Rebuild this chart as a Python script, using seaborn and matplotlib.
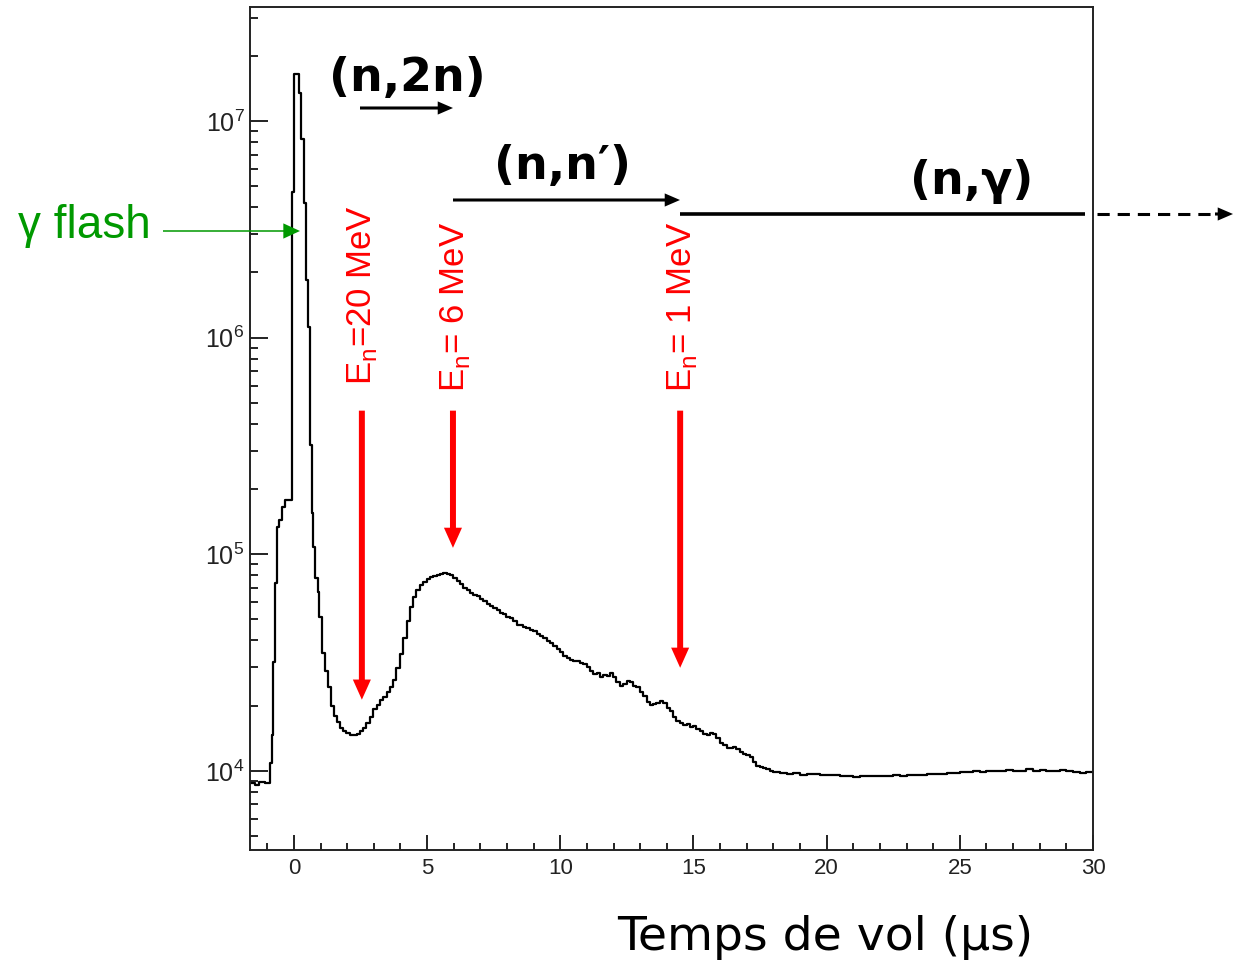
import numpy as np
import pandas as pd
import matplotlib
matplotlib.use("Agg")
import matplotlib.pyplot as plt
from matplotlib.lines import Line2D
from matplotlib.ticker import MultipleLocator, LogLocator, FuncFormatter, NullFormatter
import seaborn as sns


# Config
W, H = 1233, 964

# Time-of-flight spectrum (lower bin edge in µs, counts per bin)
tof_us = [
    -1.65, -1.45, -1.30, -1.10, -0.90, -0.82, -0.79, -0.71, -0.64, -0.56,
    -0.45, -0.34, -0.09, 0.00, 0.20, 0.26, 0.38, 0.44, 0.54, 0.60,
    0.66, 0.70, 0.79, 0.89, 0.95, 1.04, 1.16, 1.29, 1.38, 1.50,
    1.60, 1.73, 1.85, 1.97, 2.10, 2.22, 2.35, 2.47, 2.60, 2.72,
    2.85, 2.97, 3.10, 3.23, 3.35, 3.48, 3.60, 3.73, 3.85, 3.98,
    4.10, 4.23, 4.36, 4.48, 4.60, 4.73, 4.86, 4.98, 5.10, 5.23,
    5.36, 5.48, 5.60, 5.73, 5.86, 5.98, 6.11, 6.23, 6.36, 6.48,
    6.61, 6.74, 6.86, 6.99, 7.11, 7.24, 7.36, 7.48, 7.61, 7.73,
    7.86, 7.98, 8.11, 8.23, 8.36, 8.48, 8.61, 8.73, 8.86, 8.99,
    9.11, 9.24, 9.36, 9.49, 9.61, 9.74, 9.86, 9.99, 10.11, 10.24,
    10.36, 10.49, 10.61, 10.74, 10.86, 10.99, 11.11, 11.24, 11.36, 11.49,
    11.61, 11.74, 11.86, 11.99, 12.11, 12.24, 12.36, 12.49, 12.61, 12.74,
    12.86, 12.99, 13.11, 13.24, 13.36, 13.49, 13.61, 13.74, 13.86, 13.99,
    14.11, 14.24, 14.36, 14.49, 14.61, 14.74, 14.86, 14.99, 15.11, 15.24,
    15.36, 15.49, 15.61, 15.74, 15.86, 15.99, 16.11, 16.24, 16.36, 16.49,
    16.61, 16.74, 16.86, 16.99, 17.11, 17.24, 17.36, 17.49, 17.61, 17.74,
    17.86, 17.99,
    18.25, 18.50, 18.75, 19.00, 19.25, 19.50, 19.75, 20.00, 20.25,
    20.50, 20.75, 21.00, 21.25, 21.50, 21.75, 22.00, 22.25, 22.50, 22.75,
    23.00, 23.25, 23.50, 23.75, 24.00, 24.25, 24.50, 24.75, 25.00, 25.25,
    25.50, 25.75, 26.00, 26.25, 26.50, 26.75, 27.00, 27.25, 27.50, 27.75,
    28.00, 28.25, 28.50, 28.75, 29.00, 29.25, 29.50, 29.75, 30.00,
]
counts = [
    8.8e3, 8.6e3, 8.9e3, 8.8e3, 1.09e4, 1.47e4, 3.19e4, 7.38e4, 1.34e5, 1.44e5,
    1.65e5, 1.78e5, 4.71e6, 1.64e7, 1.35e7, 8.24e6, 4.18e6, 1.85e6, 1.12e6, 3.19e5,
    1.55e5, 1.08e5, 7.75e4, 6.72e4, 5.15e4, 3.49e4, 2.90e4, 2.45e4, 2.00e4, 1.80e4,
    1.68e4, 1.58e4, 1.53e4, 1.50e4, 1.47e4, 1.46e4, 1.48e4, 1.52e4, 1.57e4, 1.66e4,
    1.78e4, 1.92e4, 2.02e4, 2.12e4, 2.20e4, 2.30e4, 2.44e4, 2.62e4, 2.98e4, 3.45e4,
    4.10e4, 4.90e4, 5.70e4, 6.35e4, 6.80e4, 7.20e4, 7.48e4, 7.70e4, 7.85e4, 7.95e4,
    8.05e4, 8.12e4, 8.20e4, 8.12e4, 7.98e4, 7.80e4, 7.50e4, 7.25e4, 7.00e4, 6.80e4,
    6.62e4, 6.50e4, 6.38e4, 6.22e4, 6.06e4, 5.90e4, 5.75e4, 5.65e4, 5.50e4, 5.36e4,
    5.28e4, 5.15e4, 5.08e4, 4.90e4, 4.70e4, 4.70e4, 4.62e4, 4.55e4, 4.48e4, 4.40e4,
    4.30e4, 4.18e4, 4.10e4, 3.98e4, 3.90e4, 3.76e4, 3.65e4, 3.52e4, 3.38e4, 3.32e4,
    3.26e4, 3.22e4, 3.20e4, 3.14e4, 3.10e4, 3.02e4, 2.90e4, 2.80e4, 2.84e4, 2.72e4,
    2.76e4, 2.74e4, 2.84e4, 2.70e4, 2.56e4, 2.46e4, 2.52e4, 2.60e4, 2.56e4, 2.46e4,
    2.44e4, 2.32e4, 2.22e4, 2.08e4, 2.02e4, 2.04e4, 2.06e4, 2.10e4, 2.06e4, 1.96e4,
    1.88e4, 1.78e4, 1.70e4, 1.66e4, 1.63e4, 1.65e4, 1.60e4, 1.61e4, 1.56e4, 1.52e4,
    1.48e4, 1.47e4, 1.50e4, 1.48e4, 1.42e4, 1.34e4, 1.31e4, 1.28e4, 1.27e4, 1.29e4,
    1.26e4, 1.22e4, 1.19e4, 1.18e4, 1.16e4, 1.10e4, 1.05e4, 1.04e4, 1.03e4, 1.02e4,
    1.00e4, 9.90e3,
    9.80e3, 9.70e3, 9.75e3, 9.60e3, 9.70e3, 9.65e3, 9.60e3, 9.55e3, 9.60e3,
    9.50e3, 9.45e3, 9.40e3, 9.50e3, 9.45e3, 9.50e3, 9.50e3, 9.45e3, 9.55e3, 9.50e3,
    9.60e3, 9.55e3, 9.60e3, 9.65e3, 9.70e3, 9.65e3, 9.80e3, 9.75e3, 9.85e3, 9.90e3,
    9.95e3, 9.90e3, 1.00e4, 9.95e3, 1.00e4, 1.01e4, 9.95e3, 1.00e4, 1.02e4, 1.00e4,
    1.01e4, 9.95e3, 1.00e4, 1.01e4, 9.95e3, 9.90e3, 9.80e3, 9.85e3, 9.85e3,
]

# Neutron energy markers
marker_labels = ["E$_\\mathregular{n}$=20 MeV", "E$_\\mathregular{n}$= 6 MeV", "E$_\\mathregular{n}$= 1 MeV"]
marker_tof = [2.55, 5.97, 14.5]
marker_tip = [2.13e4, 1.07e5, 2.99e4]
marker_top = 4.6e5

reactions = ["(n,2n)", "(n,n\u2032)", "(n,\u03b3)"]


def fp(px, py):
    # figure pixel (top-left origin) -> figure fraction
    return (px / W, 1 - py / H)


def arrow(ax, start, end, color, tail, hw, hl, coords="figure fraction"):
    ax.annotate(
        "", xy=end, xycoords=coords, xytext=start, textcoords=coords,
        arrowprops=dict(
            arrowstyle=f"simple,head_length={hl},head_width={hw},tail_width={tail}",
            mutation_scale=10, color=color, lw=0, shrinkA=0, shrinkB=0,
        ),
        annotation_clip=False,
    )


sns.set_style("ticks")
plt.rcParams["font.family"] = ["DejaVu Sans"]

fig = plt.figure(figsize=(W / 100, H / 100), dpi=100)
ax = fig.add_axes([250 / W, 1 - 850 / H, (1093 - 250) / W, (850 - 6.7) / H])

df = pd.DataFrame({"tof": tof_us, "counts": counts})
sns.lineplot(data=df, x="tof", y="counts", drawstyle="steps-post", estimator=None,
             color="black", lw=1.6, ax=ax)

ax.set_yscale("log")
ax.set_xlim(-1.65, 30)
ax.set_ylim(4.31e3, 3.37e7)
ax.set_xlabel("")
ax.set_ylabel("")

# Ticks
ax.xaxis.set_major_locator(MultipleLocator(5))
ax.xaxis.set_minor_locator(MultipleLocator(1))
ax.yaxis.set_major_locator(LogLocator(base=10, numticks=10))
ax.yaxis.set_minor_locator(LogLocator(base=10, subs=np.arange(2, 10), numticks=20))
ax.yaxis.set_minor_formatter(NullFormatter())
ax.yaxis.set_major_formatter(FuncFormatter(
    lambda v, p: "$\\mathregular{10^{%d}}$" % int(round(np.log10(v)))))

ax.tick_params(axis="both", which="both", direction="in", top=False, right=False,
               width=1.4, color="#222222", labelcolor="#222222",
               labelfontfamily="Liberation Sans")
ax.tick_params(axis="x", which="major", length=11, pad=6, labelsize=16)
ax.tick_params(axis="x", which="minor", length=5)
ax.tick_params(axis="y", which="major", length=13, pad=4, labelsize=18)
ax.tick_params(axis="y", which="minor", length=5.5)

for sp in ax.spines.values():
    sp.set_visible(True)
    sp.set_linewidth(1.4)
    sp.set_color("#222222")

# Axis title
fig.text(*fp(825, 937), "Temps de vol (\u03bcs)", ha="center", va="center",
         fontsize=34, color="black")

# Reaction labels and arrows
fig.text(*fp(407, 78), reactions[0], ha="center", va="center", fontsize=33,
         fontweight="bold", color="black")
fig.text(*fp(563, 167), reactions[1], ha="center", va="center", fontsize=33,
         fontweight="bold", color="black")
fig.text(*fp(972, 182), reactions[2], ha="center", va="center", fontsize=33,
         fontweight="bold", color="black")

arrow(ax, fp(360, 108), fp(453, 108), "black", 0.22, 0.95, 1.1)
arrow(ax, fp(453, 200), fp(680, 200), "black", 0.22, 0.95, 1.1)
fig.add_artist(Line2D([680 / W, 1085 / W], [1 - 214 / H] * 2, transform=fig.transFigure,
                      color="black", lw=2.6, solid_capstyle="butt"))
fig.add_artist(Line2D([1097 / W, 1220 / W], [1 - 214 / H] * 2, transform=fig.transFigure,
                      color="black", lw=2.2, ls=(0, (4, 2.6)), dash_capstyle="butt"))
arrow(ax, fp(1215, 214), fp(1233, 214), "black", 0.22, 0.95, 1.1)

# Gamma flash
fig.text(*fp(18, 226), "\u03b3 flash", ha="left", va="center", fontsize=33,
         color="#009900", family=["Liberation Sans", "DejaVu Sans"])
arrow(ax, fp(163, 231), fp(300, 231), "#009900", 0.11, 1.1, 1.2)

# Energy markers
label_pos = [(362, 295), (455, 307), (682, 307)]
for lab, (px, py), t, tip in zip(marker_labels, label_pos, marker_tof, marker_tip):
    fig.text(*fp(px, py), lab, ha="center", va="center", rotation=90, fontsize=25,
             color="red", family=["Liberation Sans"])
    arrow(ax, (t, marker_top), (t, tip), "red", 0.43, 1.3, 1.45, coords="data")

fig.savefig("out.png", dpi=100)
